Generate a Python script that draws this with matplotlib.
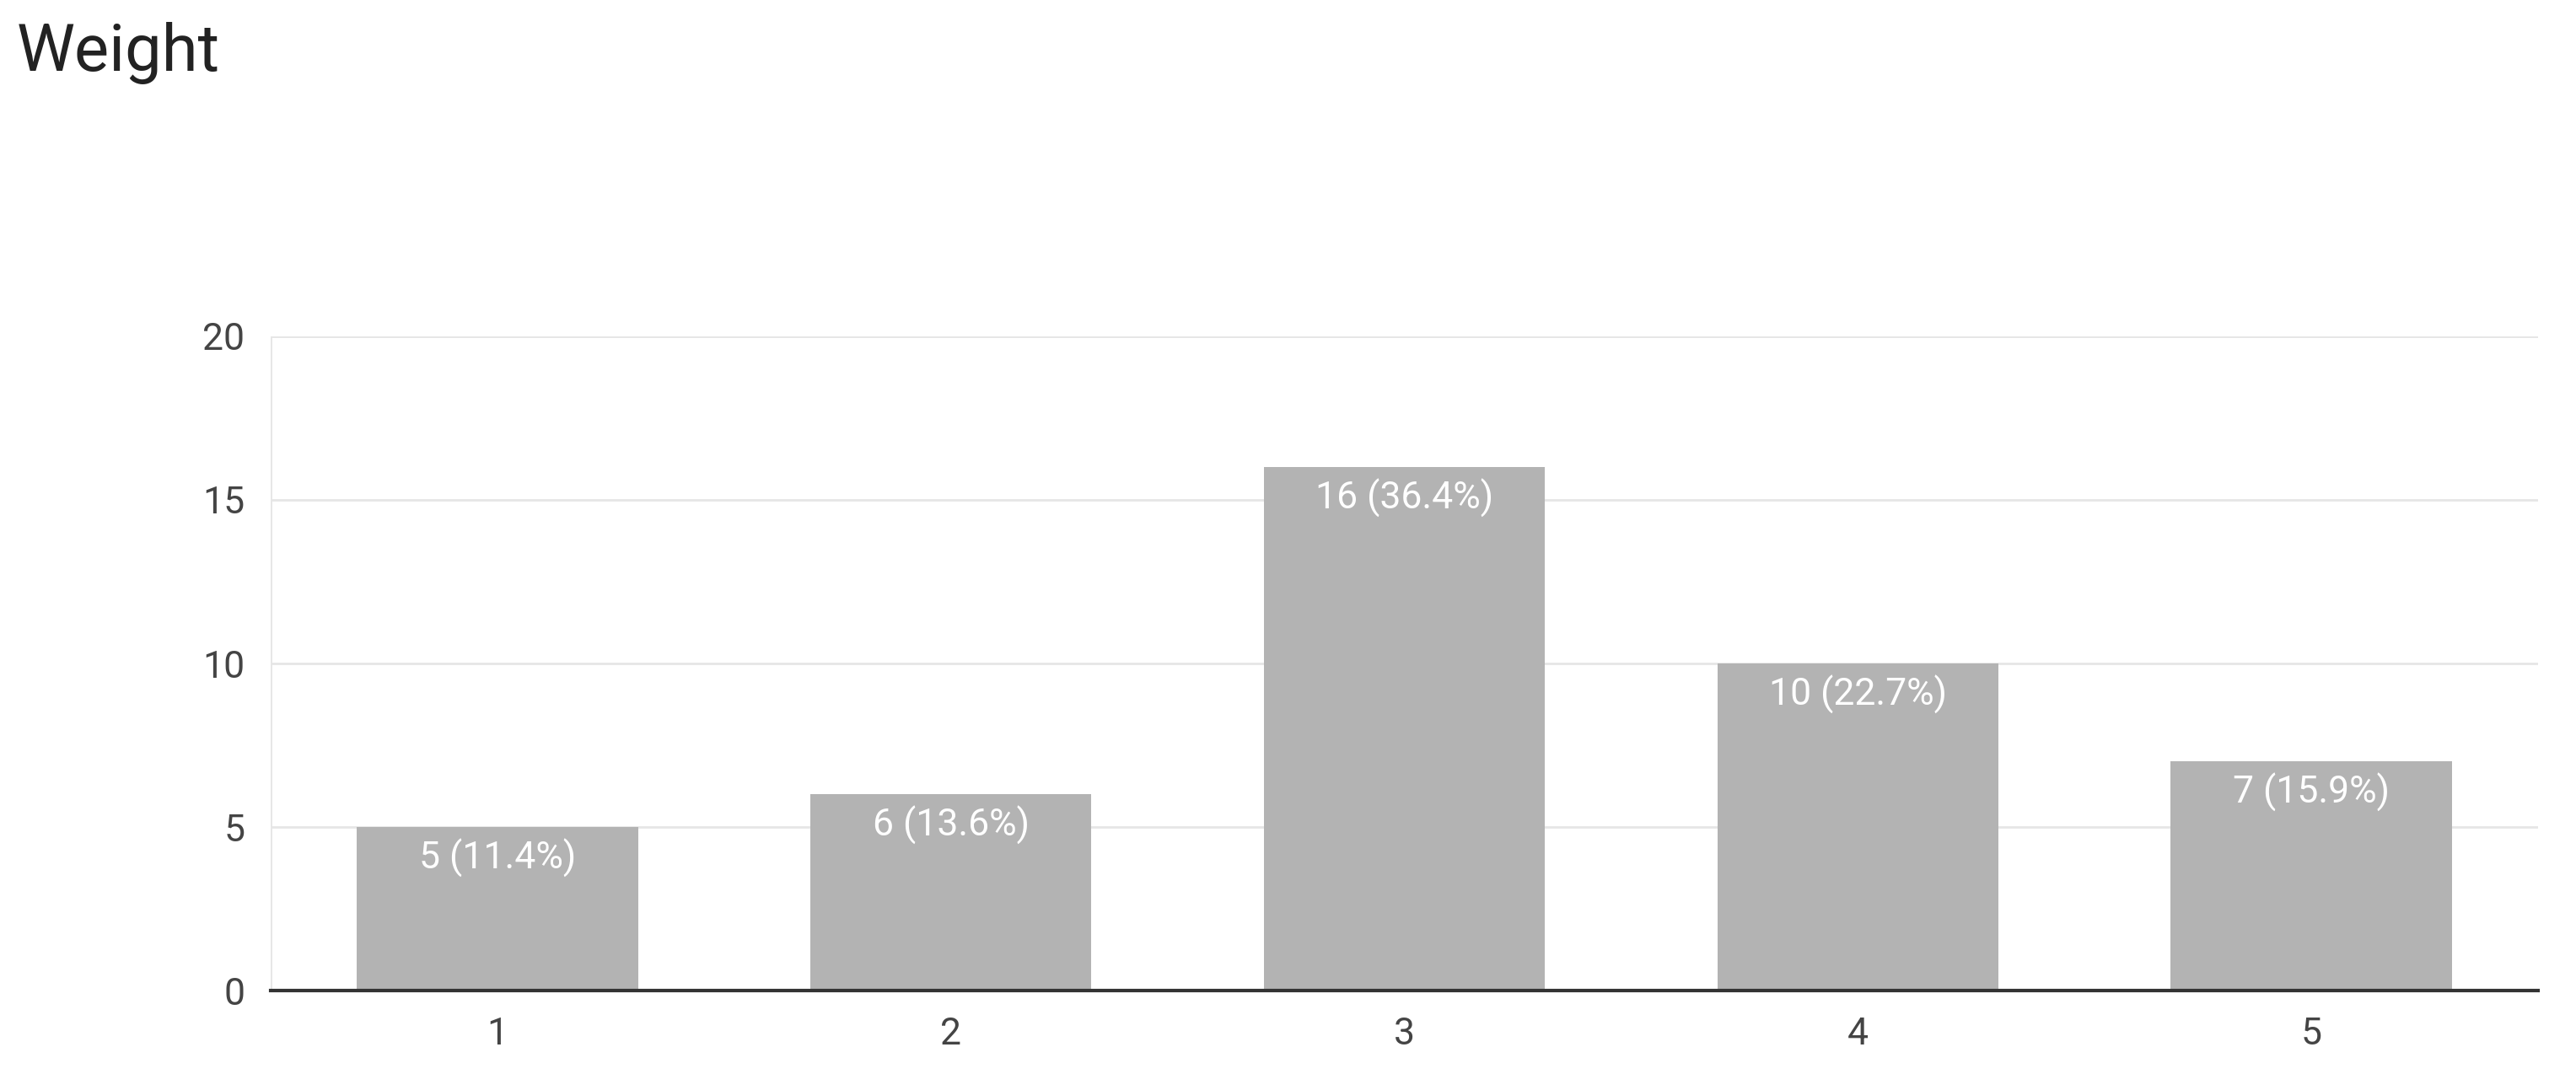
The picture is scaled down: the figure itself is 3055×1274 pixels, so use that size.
import matplotlib
matplotlib.use("Agg")
import matplotlib.pyplot as plt

categories = ["1", "2", "3", "4", "5"]
counts = [5, 6, 16, 10, 7]
pct_labels = ["5 (11.4%)", "6 (13.6%)", "16 (36.4%)", "10 (22.7%)", "7 (15.9%)"]
yticks = [0, 5, 10, 15, 20]

plt.rcParams['font.family'] = ['Roboto', 'DejaVu Sans']
fig = plt.figure(figsize=(30.55, 12.74), dpi=100)
ax = fig.add_axes([321/3055, 1-1175/1274, (3010-321)/3055, (1175-399)/1274])
x = list(range(len(categories)))
ax.bar(x, counts, width=0.62, color="#b3b3b3", zorder=2)
for xi, c, lab in zip(x, counts, pct_labels):
    ax.text(xi, c - 0.35, lab, ha="center", va="top", color="white", fontsize=32, zorder=3)
ax.set_xlim(-0.5, 4.5)
ax.set_ylim(0, 20)
ax.set_yticks(yticks)
ax.set_xticks(x)
ax.set_xticklabels(categories)
ax.grid(axis="y", color="#e6e6e6", linewidth=2, zorder=0)
for s in ["top", "right", "left"]:
    ax.spines[s].set_visible(False)
ax.spines["bottom"].set_color("#333333")
ax.spines["bottom"].set_linewidth(3)
ax.tick_params(length=0, labelsize=32, labelcolor="#444444", pad=22)
ax.axhline(20, color="#e6e6e6", linewidth=2, zorder=0)
ax.axvline(-0.5, color="#e6e6e6", linewidth=2, zorder=0)
fig.text(20/3055, 1-62/1274, "Weight", fontsize=56, color="#222222", va="center", ha="left")
fig.savefig("out.png", dpi=100)
